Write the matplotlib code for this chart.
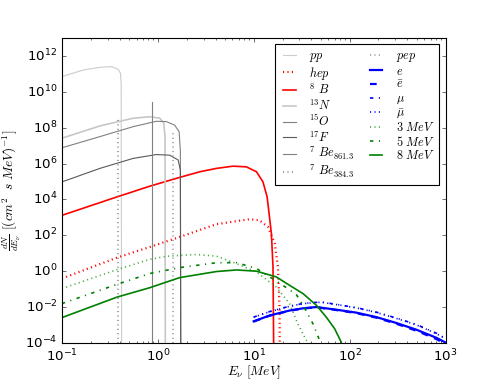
import matplotlib
matplotlib.use('Agg')
import matplotlib.pyplot as plt
from matplotlib.ticker import NullLocator

plt.style.use('classic')

# solar spectra, energies in MeV, flux
pp_e = [0.1, 0.167, 0.249, 0.33, 0.386, 0.408, 0.415, 0.42]
pp_f = [7.1e10, 1.66e11, 2.34e11, 2.57e11, 1.82e11, 1.1e11, 3e10, 1e-5]

hep_e = [0.1, 0.377, 0.826, 1.69, 4.08, 9.08, 11.5, 14.1, 16.6, 17.9, 18.6, 18.7]
hep_f = [0.39, 5.75, 22.4, 81, 417, 794, 692, 295, 34.7, 1.7, 0.01, 1e-5]

b8_e = [0.1, 0.377, 0.826, 1.69, 2.74, 4.08, 6.08, 8.39, 10.7, 12.5, 13.8, 14.5, 15.3, 15.9, 16.2]
b8_f = [1.3e3, 1.4e4, 5.5e4, 1.7e5, 3.5e5, 5.4e5, 7.2e5, 6.6e5, 3.5e5, 9.5e4, 1.4e4, 1.5e3, 1.26e2, 1.7, 1e-5]

n13_e = [0.1, 0.249, 0.553, 0.826, 1.05, 1.155, 1.19, 1.199]
n13_f = [2.6e7, 1.26e8, 3.4e8, 4.1e8, 3.4e8, 1.8e8, 3e7, 1e-5]

o15_e = [0.1, 0.249, 0.553, 0.968, 1.23, 1.50, 1.67, 1.72, 1.732]
o15_f = [7.6e6, 3.2e7, 1.15e8, 2.3e8, 2.2e8, 1.4e8, 6e7, 5e6, 1e-5]

f17_e = [0.1, 0.249, 0.553, 0.968, 1.33, 1.63, 1.72, 1.74]
f17_f = [9.5e4, 5.4e5, 1.95e6, 3.2e6, 2.95e6, 1.6e6, 4.4e5, 1e-5]

be861_e = [0.8613, 0.8613]
be861_f = [1e-5, 2.6e9]
be384_e = [0.3843, 0.3843]
be384_f = [1e-5, 3e8]
pep_e = [1.442, 1.442]
pep_f = [1e-5, 7.4e7]

# supernova-like flavours
nu_e_e = [10, 14.7, 23.7, 32.7, 45, 72.6, 117, 190, 306, 495, 800, 1000]
nu_e_f = [1.6e-3, 3.4e-3, 6.4e-3, 8.5e-3, 1.0e-2, 7.1e-3, 4.9e-3, 2.75e-3, 1.3e-3, 5.5e-4, 1.95e-4, 1.05e-4]
nu_eb_f = [1.55e-3, 3.3e-3, 6.2e-3, 8.2e-3, 9.7e-3, 6.8e-3, 4.6e-3, 2.55e-3, 1.18e-3, 4.8e-4, 1.65e-4, 8.5e-5]

nu_mu_e = [10, 14.7, 23.7, 32.7, 45, 50.7, 72.6, 117, 190, 306, 495, 800, 1000]
nu_mu_f = [2.75e-3, 5.6e-3, 1.12e-2, 1.58e-2, 1.82e-2, 1.9e-2, 1.41e-2, 9.3e-3, 5.2e-3, 2.45e-3, 1.07e-3, 3.5e-4, 1.8e-4]
nu_mub_f = [2.7e-3, 5.5e-3, 1.1e-2, 1.55e-2, 1.78e-2, 1.86e-2, 1.38e-2, 9.0e-3, 5.0e-3, 2.35e-3, 1.02e-3, 3.3e-4, 1.7e-4]

t3_e = [0.1, 0.377, 0.826, 1.23, 1.69, 2.51, 4.08, 6.61, 10.7, 17.2, 23.7, 28.8, 35.4, 38.3]
t3_f = [0.107, 1.23, 4.57, 6.76, 7.6, 8.5, 6.9, 2.63, 0.9, 0.13, 0.0155, 1.17e-3, 1.4e-4, 1e-4]

t5_e = [0.1, 0.377, 0.826, 1.69, 4.08, 6.61, 10.7, 20.2, 27.8, 32.7, 41.5, 48.7, 50.7]
t5_f = [0.0155, 0.186, 0.74, 1.58, 2.95, 3.0, 1.41, 0.162, 0.05, 0.0126, 1.17e-3, 1.38e-4, 1e-4]

t8_e = [0.1, 0.377, 0.826, 1.69, 4.08, 6.61, 10.7, 17.2, 23.7, 32.7, 45, 57.1, 69.8, 81.8]
t8_f = [2.57e-3, 0.036, 0.12, 0.437, 0.955, 1.17, 1.0, 0.48, 0.162, 0.056, 0.0126, 2.75e-3, 6.2e-4, 1.1e-4]

# 495x381 px at 80 dpi
fig = plt.figure(figsize=(6.1875, 4.7625), dpi=80, facecolor='white')
ax = fig.add_axes([0.125, 0.1, 0.775, 0.8])

ax.loglog(pp_e, pp_f, color='0.8', lw=1, label=r'$pp$')
ax.loglog(hep_e, hep_f, color='red', ls=':', lw=2, label=r'$hep$')
ax.loglog(b8_e, b8_f, color='red', lw=1.5, label=r'$^8\ B$')
ax.loglog(n13_e, n13_f, color='0.78', lw=1.5, label=r'$^{13}N$')
ax.loglog(o15_e, o15_f, color='0.5', lw=1, label=r'$^{15}O$')
ax.loglog(f17_e, f17_f, color='0.35', lw=1, label=r'$^{17}F$')
ax.loglog(be861_e, be861_f, color='0.5', lw=1, label=r'$^7\ Be_{861.3}$')
ax.loglog(be384_e, be384_f, color='0.55', ls=':', lw=1.5, label=r'$^7\ Be_{384.3}$')
ax.loglog(pep_e, pep_f, color='0.6', ls=':', lw=1.5, label=r'$pep$')
ax.loglog(nu_e_e, nu_e_f, color='blue', lw=2, label=r'$e$')
ax.loglog(nu_e_e, nu_eb_f, color='blue', ls='--', lw=2, label=r'$\bar{e}$')
ax.loglog(nu_mu_e, nu_mu_f, color='blue', ls='-.', lw=1.5, label=r'$\mu$')
ax.loglog(nu_mu_e, nu_mub_f, color='blue', ls=':', lw=1.5, label=r'$\bar{\mu}$')
ax.loglog(t3_e, t3_f, color='#44aa44', ls=':', lw=1.5, label=r'$3\ MeV$')
ax.loglog(t5_e, t5_f, color='green', ls='-.', lw=1.5, label=r'$5\ MeV$')
ax.loglog(t8_e, t8_f, color='green', lw=1.5, label=r'$8\ MeV$')

ax.set_xlim(0.1, 1000)
ax.set_ylim(1e-4, 1e13)
ax.set_yticks([10.0**k for k in range(-4, 13, 2)])
ax.yaxis.set_minor_locator(NullLocator())

ax.set_xlabel(r'$E_\nu\ [MeV]$', fontsize=12, labelpad=0)
ax.set_ylabel(r'$\frac{dN}{dE_\nu}\ [(cm^2\ \ s\ MeV)^{-1}]$', fontsize=12, labelpad=2)

ax.legend(loc='upper right', ncol=2, fontsize=11, labelspacing=0.05,
          handlelength=1.6, handletextpad=0.8, columnspacing=1.0,
          borderaxespad=0.5)

fig.savefig('out.png', dpi=80, facecolor='white')
